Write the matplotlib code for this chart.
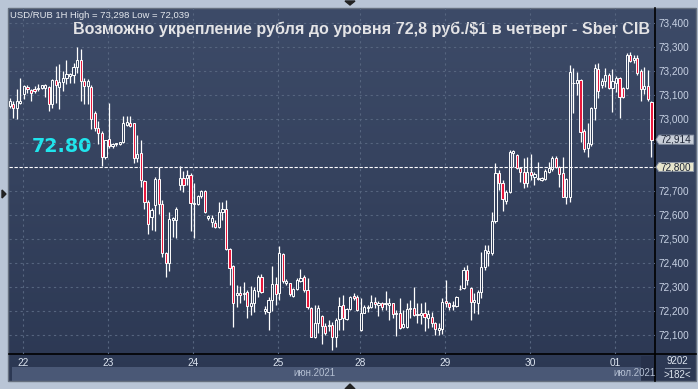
import numpy as np
import matplotlib.pyplot as plt
from matplotlib.patches import Rectangle, Polygon
from matplotlib.colors import LinearSegmentedColormap

plt.rcParams['font.family'] = ['Liberation Sans', 'DejaVu Sans']

# Свечи USD/RUB 1H (21.06 - 01.07.2021): open, high, low, close
opens = [73.054, 73.061, 73.047, 73.068, 73.103, 73.135, 73.120, 73.127, 73.124, 73.131,
         73.131, 73.135, 73.061, 73.161, 73.135, 73.154, 73.172, 73.179, 73.182, 73.217,
         73.245, 73.158, 73.138, 73.135, 73.026, 72.964, 72.943, 72.843, 72.918, 72.888,
         72.895, 72.895, 72.906, 72.975, 72.982, 72.982, 72.839, 72.857, 72.742, 72.656,
         72.593, 72.642, 72.749, 72.644, 72.440, 72.401, 72.579, 72.579, 72.725, 72.753,
         72.753, 72.767, 72.646, 72.646, 72.679, 72.700, 72.586, 72.572, 72.568, 72.551,
         72.614, 72.624, 72.457, 72.388, 72.267, 72.277, 72.270, 72.278, 72.222, 72.235,
         72.283, 72.340, 72.200, 72.197, 72.246, 72.311, 72.274, 72.438, 72.315, 72.315,
         72.263, 72.290, 72.326, 72.343, 72.288, 72.211, 72.093, 72.149, 72.179, 72.138,
         72.138, 72.142, 72.090, 72.165, 72.225, 72.165, 72.207, 72.262, 72.257, 72.121,
         72.193, 72.211, 72.218, 72.239, 72.225, 72.232, 72.229, 72.225, 72.232, 72.186,
         72.193, 72.132, 72.135, 72.207, 72.211, 72.183, 72.183, 72.190, 72.169, 72.176,
         72.151, 72.121, 72.124, 72.243, 72.235, 72.221, 72.221, 72.290, 72.294, 72.371,
         72.294, 72.239, 72.235, 72.281, 72.382, 72.443, 72.440, 72.576, 72.774, 72.732,
         72.660, 72.697, 72.857, 72.850, 72.794, 72.781, 72.732, 72.781, 72.760, 72.756,
         72.746, 72.749, 72.781, 72.790, 72.836, 72.799, 72.774, 72.677, 72.677, 73.149,
         73.149, 73.163, 72.951, 72.878, 72.896, 73.044, 73.207, 73.142, 73.160, 73.183,
         73.128, 73.149, 73.170, 73.128, 73.128, 73.267, 73.246, 73.253, 73.202, 73.124,
         73.138, 73.072]
highs = [73.089, 73.075, 73.124, 73.172, 73.140, 73.140, 73.124, 73.138, 73.145, 73.140,
         73.145, 73.138, 73.165, 73.221, 73.228, 73.200, 73.245, 73.193, 73.235, 73.298,
         73.290, 73.172, 73.168, 73.140, 73.033, 72.992, 72.950, 72.911, 73.068, 72.902,
         72.902, 72.904, 73.013, 73.013, 73.013, 72.985, 72.934, 72.912, 72.746, 72.663,
         72.628, 72.760, 72.801, 72.663, 72.447, 72.614, 72.593, 72.635, 72.804, 72.785,
         72.787, 72.774, 72.735, 72.683, 72.704, 72.704, 72.600, 72.600, 72.579, 72.656,
         72.656, 72.663, 72.461, 72.392, 72.308, 72.304, 72.322, 72.288, 72.304, 72.302,
         72.350, 72.354, 72.221, 72.257, 72.388, 72.343, 72.471, 72.443, 72.332, 72.318,
         72.295, 72.336, 72.374, 72.350, 72.336, 72.218, 72.225, 72.225, 72.183, 72.149,
         72.163, 72.156, 72.170, 72.260, 72.267, 72.211, 72.262, 72.274, 72.267, 72.253,
         72.225, 72.225, 72.267, 72.260, 72.243, 72.239, 72.283, 72.253, 72.235, 72.204,
         72.253, 72.204, 72.232, 72.246, 72.299, 72.232, 72.235, 72.239, 72.204, 72.197,
         72.156, 72.149, 72.253, 72.329, 72.239, 72.243, 72.263, 72.308, 72.385, 72.392,
         72.299, 72.274, 72.288, 72.447, 72.475, 72.475, 72.614, 72.815, 72.788, 72.746,
         72.704, 72.871, 72.871, 72.854, 72.798, 72.836, 72.843, 72.854, 72.781, 72.822,
         72.760, 72.790, 72.822, 72.846, 72.846, 72.804, 72.840, 72.753, 73.225, 73.211,
         73.197, 73.165, 72.957, 72.982, 73.051, 73.229, 73.235, 73.170, 73.211, 73.190,
         73.207, 73.179, 73.176, 73.135, 73.276, 73.281, 73.267, 73.267, 73.207, 73.218,
         73.204, 73.077]
lows = [73.047, 73.006, 72.999, 73.061, 73.082, 73.110, 73.075, 73.110, 73.117, 73.127,
        73.093, 73.033, 73.047, 73.068, 73.043, 73.117, 73.145, 73.152, 73.152, 73.193,
        73.075, 73.061, 73.061, 72.957, 72.950, 72.895, 72.804, 72.832, 72.881, 72.881,
        72.888, 72.890, 72.899, 72.971, 72.968, 72.818, 72.822, 72.715, 72.624, 72.519,
        72.537, 72.535, 72.604, 72.426, 72.343, 72.368, 72.510, 72.503, 72.704, 72.697,
        72.725, 72.535, 72.506, 72.642, 72.670, 72.607, 72.579, 72.551, 72.544, 72.544,
        72.579, 72.454, 72.310, 72.135, 72.218, 72.232, 72.246, 72.170, 72.183, 72.197,
        72.257, 72.277, 72.188, 72.121, 72.201, 72.225, 72.246, 72.318, 72.308, 72.263,
        72.257, 72.288, 72.322, 72.281, 72.208, 72.090, 72.086, 72.107, 72.062, 72.100,
        72.118, 72.039, 72.051, 72.120, 72.121, 72.162, 72.204, 72.246, 72.201, 72.118,
        72.190, 72.197, 72.211, 72.211, 72.179, 72.204, 72.204, 72.162, 72.169, 72.096,
        72.124, 72.128, 72.128, 72.169, 72.179, 72.149, 72.146, 72.118, 72.128, 72.135,
        72.100, 72.100, 72.104, 72.218, 72.204, 72.204, 72.218, 72.287, 72.290, 72.308,
        72.163, 72.190, 72.188, 72.253, 72.371, 72.388, 72.433, 72.568, 72.704, 72.618,
        72.646, 72.690, 72.801, 72.790, 72.739, 72.711, 72.715, 72.746, 72.725, 72.746,
        72.743, 72.746, 72.774, 72.785, 72.794, 72.718, 72.674, 72.646, 72.656, 73.024,
        73.100, 72.906, 72.864, 72.843, 72.888, 72.996, 73.086, 73.128, 73.135, 73.124,
        73.031, 73.114, 73.003, 73.086, 73.124, 73.239, 73.235, 73.183, 73.077, 73.104,
        73.077, 72.843]
closes = [73.075, 73.047, 73.075, 73.075, 73.137, 73.124, 73.110, 73.117, 73.131, 73.140,
          73.140, 73.061, 73.161, 73.140, 73.154, 73.172, 73.186, 73.186, 73.217, 73.245,
          73.158, 73.138, 73.158, 72.999, 72.964, 72.943, 72.843, 72.911, 72.888, 72.895,
          72.902, 72.904, 72.982, 72.986, 72.971, 72.839, 72.853, 72.746, 72.656, 72.561,
          72.621, 72.749, 72.644, 72.443, 72.399, 72.582, 72.586, 72.624, 72.753, 72.725,
          72.767, 72.651, 72.651, 72.679, 72.700, 72.614, 72.596, 72.586, 72.549, 72.611,
          72.624, 72.457, 72.381, 72.235, 72.277, 72.268, 72.277, 72.222, 72.235, 72.288,
          72.340, 72.281, 72.209, 72.246, 72.311, 72.271, 72.440, 72.326, 72.326, 72.270,
          72.290, 72.329, 72.336, 72.288, 72.215, 72.093, 72.149, 72.211, 72.138, 72.110,
          72.142, 72.093, 72.163, 72.221, 72.169, 72.207, 72.260, 72.253, 72.204, 72.193,
          72.218, 72.218, 72.239, 72.229, 72.235, 72.218, 72.235, 72.232, 72.186, 72.193,
          72.128, 72.146, 72.207, 72.211, 72.183, 72.186, 72.190, 72.174, 72.186, 72.149,
          72.124, 72.128, 72.239, 72.232, 72.218, 72.225, 72.260, 72.292, 72.371, 72.329,
          72.239, 72.246, 72.281, 72.382, 72.454, 72.451, 72.576, 72.774, 72.732, 72.665,
          72.697, 72.864, 72.867, 72.794, 72.781, 72.732, 72.781, 72.767, 72.771, 72.749,
          72.753, 72.785, 72.794, 72.836, 72.798, 72.771, 72.677, 72.749, 73.197, 73.152,
          73.163, 72.947, 72.874, 72.899, 73.044, 73.211, 73.118, 73.160, 73.183, 73.128,
          73.160, 73.170, 73.093, 73.090, 73.267, 73.243, 73.253, 73.190, 73.124, 73.138,
          73.082, 72.914]

day_labels = ["22", "23", "24", "25", "28", "29", "30", "01"]
day_start = [4, 28, 52, 76, 99, 123, 147, 171]   # индекс первой свечи дня
price_ticks = [73.4, 73.3, 73.2, 73.1, 73.0, 72.9, 72.8, 72.7, 72.6, 72.5, 72.4, 72.3, 72.2, 72.1]
level = 72.80
last_price = closes[-1]

W, H = 698, 389
bg_top, bg_bottom = "#3d4b68", "#2c3853"
grid_color = "#56657f"
bear_color = "#e8183c"

fig = plt.figure(figsize=(W / 100, H / 100), dpi=100, facecolor="#b9c5d6")

# фон и оформление в пикселях
bg = fig.add_axes([0, 0, 1, 1])
cmap = LinearSegmentedColormap.from_list("bg", [bg_top, bg_bottom])
bg.imshow(np.linspace(0, 1, 256).reshape(-1, 1), cmap=cmap, extent=[8, 696, 381, 8], aspect="auto")
bg.set_xlim(0, W)
bg.set_ylim(H, 0)
bg.axis("off")
bg.add_patch(Rectangle((12, 367), 629, 14, color="#4a5876", lw=0))
bg.add_patch(Rectangle((641, 356), 14, 25, color="#27314b", lw=0))
bg.add_patch(Rectangle((8, 8), 688, 373, fill=False, edgecolor="#66707f", lw=1))
bg.plot([655, 655], [8, 381], color="black", lw=1.2)
bg.plot([9, 696], [354, 354], color="black", lw=1.2)
bg.plot([665, 690], [368, 368], color="#8a96ac", lw=0.8)
bg.text(677, 361, "9202", ha="center", va="center", fontsize=7, color="#dde4ee")
bg.text(677, 375, ">182<", ha="center", va="center", fontsize=7, color="#dde4ee")
bg.text(314, 373.5, "июн.2021", ha="center", va="center", fontsize=7, color="#b4bfd2")
bg.text(635, 373.5, "июл.2021", ha="center", va="center", fontsize=7, color="#b4bfd2")
bg.add_patch(Polygon([(345, 1), (355, 1), (350, 5)], color="#222222"))
bg.add_patch(Polygon([(2, 190), (2, 198), (6, 194)], color="#222222"))
bg.add_patch(Polygon([(345, 389), (355, 389), (350, 384)], color="#222222"))

bg.text(10, 15, "USD/RUB 1H High = 73,298 Low = 72,039", ha="left", va="center",
        fontsize=6.8, color="#e4e8ee")
bg.text(650, 29, "Возможно укрепление рубля до уровня 72,8 руб./$1 в четверг - Sber CIB",
        ha="right", va="center", fontsize=11.6, fontweight="bold", color="#e4e4e6")
bg.text(32, 146, "72.80", ha="left", va="center", fontsize=13.8, fontweight="bold",
        color="#20e4ec", family="DejaVu Sans")

# график
ax = fig.add_axes([9 / W, 1 - 354 / H, 646 / W, 346 / H])
ax.set_facecolor("none")
for s in ax.spines.values():
    s.set_visible(False)

for p in price_ticks:
    if p != level:
        ax.axhline(p, color=grid_color, lw=0.8, ls=(0, (2, 3)), zorder=1)
for d in day_start:
    ax.axvline(d - 0.3, color=grid_color, lw=0.8, ls=(0, (2, 3)), zorder=1)
ax.axhline(level, color="white", lw=0.8, ls=(0, (3, 1.5)), zorder=2, clip_on=False)

for i in range(len(opens)):
    o, h, l, c = opens[i], highs[i], lows[i], closes[i]
    top, bot = max(o, c), min(o, c)
    ax.vlines(i, top, h, color="white", lw=0.9, zorder=3)
    ax.vlines(i, l, bot, color="white", lw=0.9, zorder=3)
    fc = bear_color if c < o else "none"
    ax.add_patch(Rectangle((i - 0.3, bot), 0.6, max(top - bot, 0.003),
                           facecolor=fc, edgecolor="white", lw=0.7, zorder=4))

ax.set_xlim(-0.2, 182.0)
ax.set_ylim(72.021, 73.4625)
ax.set_xticks([d - 0.3 for d in day_start], day_labels)
ax.tick_params(axis="x", length=0, pad=3, labelsize=7.3, labelcolor="#dce4f0")
ax.set_yticks([])

# шкала цен справа
ytr = ax.get_yaxis_transform()
for p in price_ticks:
    if abs(p - last_price) > 0.03 and p != level:
        ax.text(1.005, p, f"{p:.3f}".replace(".", ","), transform=ytr, ha="left", va="center",
                fontsize=7.2, color="#c8d2e4", clip_on=False)

for p, fc in [(last_price, "#c8ced8"), (level, "#e8e6cc")]:
    hh = 0.019
    ax.add_patch(Polygon([(1.0015, p), (1.006, p + hh), (1.060, p + hh), (1.060, p - hh), (1.006, p - hh)],
                         closed=True, transform=ytr, facecolor=fc, edgecolor="#8a94a6",
                         lw=0.6, clip_on=False, zorder=5))
    ax.text(1.008, p, f"{p:.3f}".replace(".", ","), transform=ytr, ha="left", va="center",
            fontsize=7.2, color="#1e2638", clip_on=False, zorder=6)

fig.savefig("out.png", dpi=100)
